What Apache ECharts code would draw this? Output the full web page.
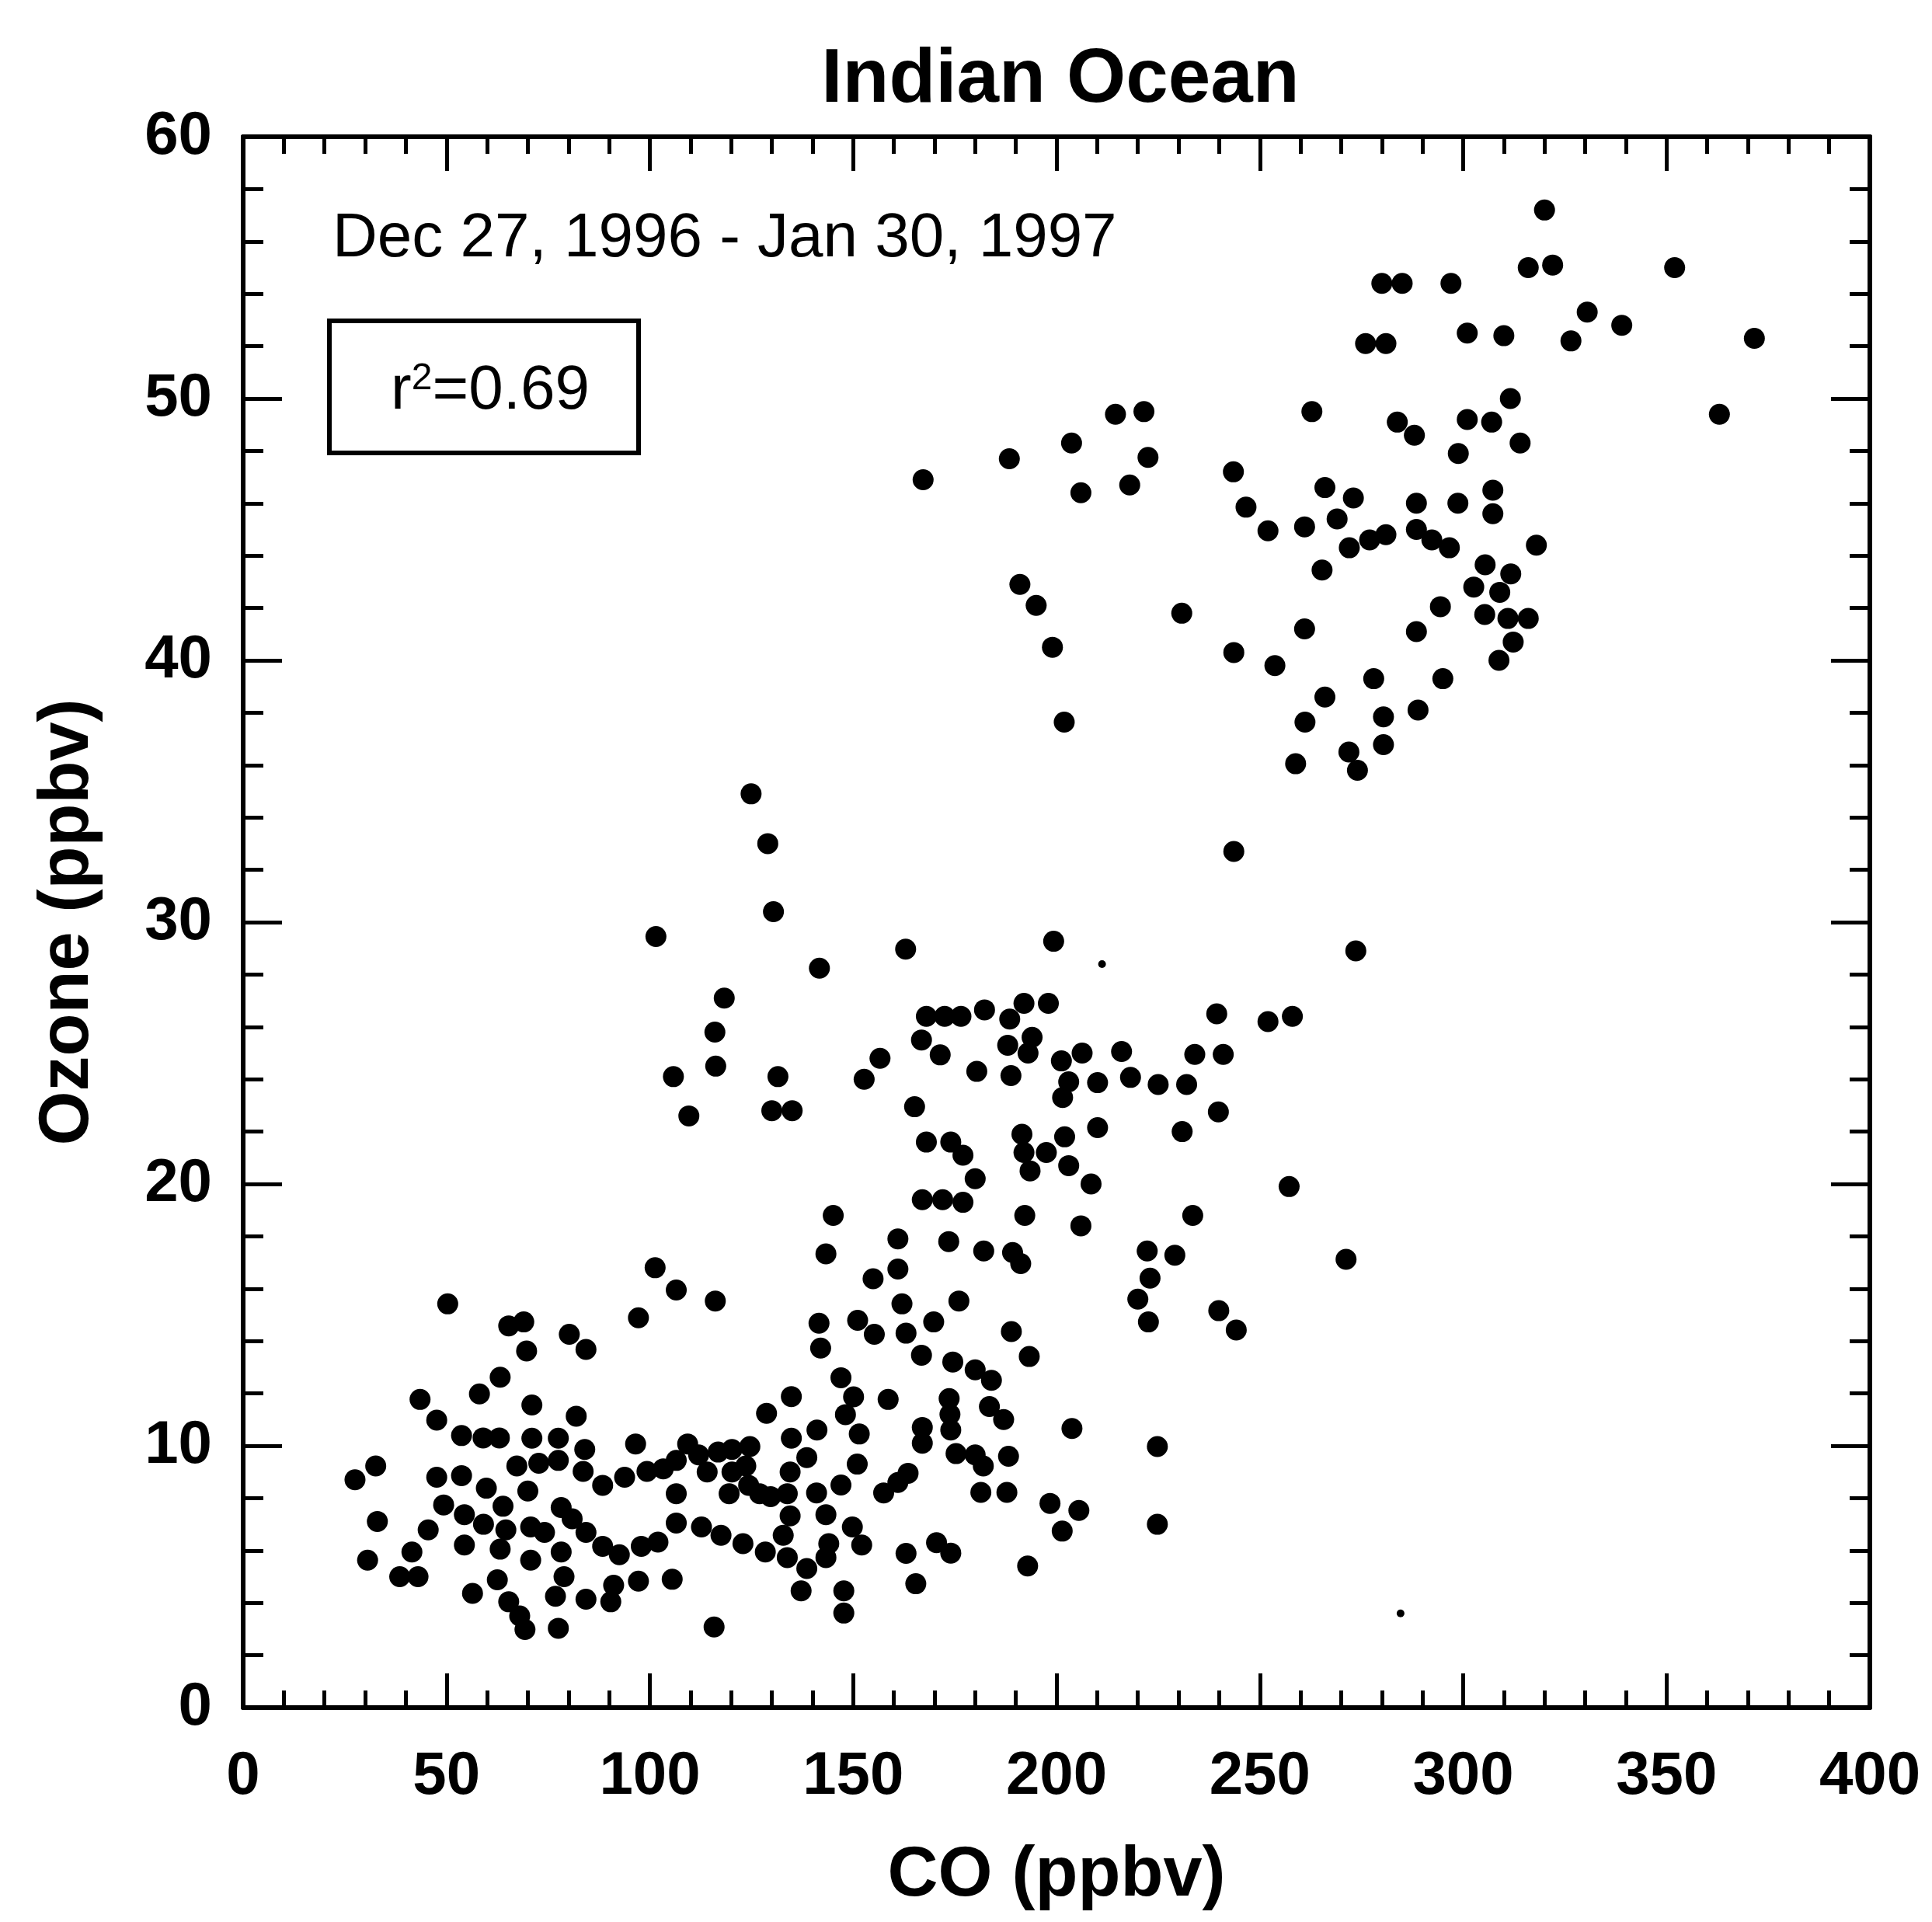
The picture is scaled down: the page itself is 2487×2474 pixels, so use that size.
<!DOCTYPE html>
<html>
<head>
<meta charset="utf-8">
<title>Indian Ocean</title>
<script src="https://cdn.jsdelivr.net/npm/echarts@6/dist/echarts.min.js"></script>
<style>
html, body { margin: 0; padding: 0; background: #fff; }
#chart { width: 2487px; height: 2474px; }
</style>
</head>
<body>
<div id="chart"></div>
<script>
// [CO ppbv, O3 ppbv]
var upperRight = [
	[320,57.2],[316,55.0],[322,55.1],[352,55.0],[330.5,53.3],[339,52.8],[326.5,52.2],[371.6,52.3],[363,49.4],
	[280,54.4],[285,54.4],[297,54.4],[276,52.1],[281,52.1],[301,52.5],[310,52.4],[311.6,50.0],
	[283.8,49.1],[288,48.6],[301,49.2],[307,49.1],[314,48.3],[298.8,47.9],
	[266,46.6],[269,45.4],[273,46.2],[288.5,46.0],[288.5,45.0],[298.7,46.0],[307.3,46.5],[307.3,45.6],
	[272,44.3],[277,44.6],[281,44.8],[292.3,44.6],[296.6,44.3],[318,44.4],
	[305.4,43.65],[311.7,43.3],[302.6,42.8],[309,42.6],[294.4,42.05],[305.3,41.75],[311,41.6],[316,41.6],
	[288.5,41.1],[308.8,40.0],[312.3,40.7],[278,39.3],[295,39.3],
	[288.9,38.1],[280.4,37.84],[280.4,36.78],[271.9,36.5],[274,35.8],[266,38.6],[261.1,37.64],[258.8,36.05]
];
var upperMiddle = [
	[214.5,49.4],[221.5,49.5],[262.8,49.5],[203.7,48.3],[188.4,47.7],[222.5,47.75],[167.2,46.9],[206,46.4],
	[218,46.7],[243.5,47.2],[246.6,45.85],[252,44.95],[261,45.1],[265.3,43.45],[191,42.9],[195,42.1],
	[230.8,41.8],[199,40.5],[261,41.2],[243.6,40.3],[253.7,39.8],[201.9,37.64],[243.6,32.7],[273.6,28.9]
];
var midBand = [
	[124.9,34.9],[129,33.0],[130.4,30.4],[101.5,29.45],[118.3,27.1],[116,25.8],[116.2,24.5],[105.8,24.1],
	[131.5,24.1],[109.6,22.6],[130,22.8],[135,22.8],
	[162.9,28.97],[141.7,28.24],[199.3,29.27],
	[168,26.4],[172.5,26.4],[176.5,26.4],[182.3,26.65],[192,26.9],[198,26.9],
	[188.5,26.3],[188,25.3],[194,25.6],[193,25.0],
	[166.8,25.5],[171.4,24.93],[156.6,24.8],[180.4,24.3],[188.8,24.14],[152.7,24.0],
	[201.2,24.7],[206.3,25.0],[216,25.06],[234,24.95],[241,24.95],[239.4,26.5],[252,26.2],[258,26.4],
	[203,23.9],[201.5,23.3],[210.1,23.87],[218.2,24.07],[225,23.8],[232,23.8],[239.8,22.75],[165.1,22.95],
	[210.1,22.15],[230.9,22.0],[168,21.6],[174,21.6],[177,21.1],[191.5,21.9],[192,21.2],[193.5,20.5],
	[197.5,21.2],[202,21.8],[203,20.7],[208.5,20.0],[180,20.2],[167,19.4],[172,19.4],[177,19.3],
	[257.2,19.9],[145.1,18.8],[192.2,18.8],[206,18.4],[233.5,18.8]
];
var lowerMiddle = [
	[222.3,17.44],[229.1,17.28],[220,15.6],[223,16.4],[222.6,14.73],[239.9,15.16],[244.2,14.42],[271.2,17.12],
	[224.8,9.97],[224.8,7.0],
	[143.3,17.33],[161,16.75],[154.9,16.38],[116.1,15.53],[161,17.9],[173.5,17.8],[182.1,17.44],[189.2,17.38],[191.2,16.96],
	[141.6,14.68],[142,13.73],[151.1,14.79],[155.2,14.26],[162,15.42],[176,15.53],
	[169.8,14.73],[163,14.3],[166.8,13.46],[188.9,14.36],[193.3,13.41],
	[174.5,13.2],[180,12.9],[184,12.5],
	[147,12.6],[150.1,11.87],[134.8,11.88],[128.7,11.24],[158.6,11.77],
	[173.6,11.8],[173.8,11.2],[174,10.6],[183.5,11.5],[187,11.0],[203.8,10.66],
	[148.1,11.19],[151.5,10.45],[141.1,10.6],[167,10.7],[167,10.1],
	[175.3,9.7],[180,9.65],[182,9.23],[188.2,9.6],[181.4,8.22],[187.8,8.22],[198.4,7.8],[205.5,7.53],[201.4,6.74],
	[170.5,6.3],[174,5.9],[163,5.89],[165.4,4.73],[192.9,5.41],
	[157.5,8.2],[161,8.6],[163.5,8.95],
	[151,9.3],[147,8.5],[141,8.2],[143.3,7.37],
	[149.8,6.9],[144,6.26],[152.1,6.21],[143.3,5.73],
	[147.7,4.46],[147.7,3.61],[115.8,3.08]
];
var lowerLeft = [
	[109.3,10.07],[124.6,9.97],[134.8,10.29],[138.6,9.55],
	[112,9.65],[116.8,9.76],[120.2,9.86],[114.1,9.0],
	[120.2,9.0],[119.5,8.17],[123.6,9.23],[124.3,8.49],[127,8.17],[129.7,8.06],
	[134.5,9.0],[133.8,8.17],[134.5,7.32],[132.8,6.58],
	[112.7,6.9],[117.5,6.58],[122.9,6.26],[128.4,5.94],[133.8,5.73],[138.6,5.31],[137.2,4.46],
	[101.3,16.8],[106.5,15.95],[50.3,15.42],[97.2,14.89],[65.3,14.58],[69,14.73],[80.2,14.26],[84.3,13.68],[69.7,13.62],
	[63.2,12.62],[58.1,11.98],[43.5,11.77],[71,11.56],[81.9,11.13],[47.6,10.98],[53.7,10.39],[59,10.3],[63,10.3],[71,10.29],
	[77.5,10.29],[77.5,9.44],[72.7,9.33],[67.3,9.23],[84,9.86],[83.6,9.02],
	[96.5,10.07],[88.4,8.49],[93.8,8.8],[99.3,9.02],[103.3,9.12],[106.5,9.44],
	[27.5,8.7],[32.6,9.23],[47.6,8.8],[53.7,8.86],[59.8,8.38],[70,8.27],[49.3,7.74],[63.9,7.69],[78.2,7.64],[80.9,7.21],
	[54.4,7.37],[59.1,7.0],[64.6,6.79],[70.7,6.9],[74.1,6.69],[33,7.11],[45.5,6.79],[63.2,6.05],[54.4,6.21],[70.7,5.63],[78.2,5.94],
	[84.3,6.69],[88.4,6.16],[92.5,5.84],[97.9,6.16],[102,6.32],[106.5,7.05],[106.5,8.17],[105.5,4.9],
	[30.6,5.63],[41.5,5.94],[38.5,5.0],[43,5.0],
	[56.4,4.36],[62.5,4.88],[65.3,4.04],[68,3.5],[69.3,2.98],[77.5,3.03],
	[78.9,5.0],[76.8,4.25],[84.3,4.14],[91.1,4.67],[90.4,4.04],[97.2,4.83]
];
// two tiny marks on the scan
var specks = [[211.2,28.4],[284.6,3.6]];

var xTicks = { min: 0, max: 400, interval: 50 };
var yTicks = { min: 0, max: 60, interval: 10 };

var fontFamily = '"Liberation Sans", Arial, sans-serif';

var chart = echarts.init(document.getElementById('chart'));

// frame axes: ticks point inward on all four sides
function axisBase(extra) {
	var base = {
		type: 'value',
		splitLine: { show: false },
		axisLine: { show: true, onZero: false, lineStyle: { color: '#000', width: 6 } },
		axisTick: { show: true, inside: true, length: 44, lineStyle: { color: '#000', width: 5 } },
		minorTick: { show: true, splitNumber: 5, length: 22, lineStyle: { color: '#000', width: 5 } },
		axisLabel: { color: '#000', fontSize: 78, fontWeight: 'bold', fontFamily: fontFamily }
	};
	for (var k in extra) base[k] = extra[k];
	return base;
}

var option = {
	backgroundColor: '#fff',
	animation: false,
	title: {
		text: 'Indian Ocean',
		left: 1360,
		top: 50,
		textAlign: 'center',
		textStyle: { color: '#000', fontSize: 98, fontWeight: 'bold', fontFamily: fontFamily }
	},
	grid: { left: 313, top: 176, width: 2094, height: 2022 },
	xAxis: [
		axisBase({
			position: 'bottom',
			min: xTicks.min, max: xTicks.max, interval: xTicks.interval,
			name: 'CO (ppbv)',
			nameLocation: 'middle',
			nameGap: 172,
			nameTextStyle: { color: '#000', fontSize: 90, fontWeight: 'bold', fontFamily: fontFamily },
			axisLabel: { color: '#000', fontSize: 78, fontWeight: 'bold', fontFamily: fontFamily, margin: 50 }
		}),
		axisBase({
			position: 'top',
			min: xTicks.min, max: xTicks.max, interval: xTicks.interval,
			axisLabel: { show: false }
		})
	],
	yAxis: [
		axisBase({
			position: 'left',
			min: yTicks.min, max: yTicks.max, interval: yTicks.interval,
			name: 'Ozone (ppbv)',
			nameLocation: 'middle',
			nameGap: 180,
			nameTextStyle: { color: '#000', fontSize: 90, fontWeight: 'bold', fontFamily: fontFamily },
			axisTick: { show: true, inside: true, length: 50, lineStyle: { color: '#000', width: 5 } },
			minorTick: { show: true, splitNumber: 5, length: 26, lineStyle: { color: '#000', width: 5 } },
			axisLabel: { color: '#000', fontSize: 78, fontWeight: 'bold', fontFamily: fontFamily, margin: 40 }
		}),
		axisBase({
			position: 'right',
			min: yTicks.min, max: yTicks.max, interval: yTicks.interval,
			axisTick: { show: true, inside: true, length: 50, lineStyle: { color: '#000', width: 5 } },
			minorTick: { show: true, splitNumber: 5, length: 26, lineStyle: { color: '#000', width: 5 } },
			axisLabel: { show: false }
		})
	],
	graphic: [
		{
			type: 'text',
			left: 428,
			top: 268,
			style: { text: 'Dec 27, 1996 - Jan 30, 1997', fill: '#000', font: 'normal 80px ' + fontFamily }
		},
		{
			type: 'rect',
			shape: { x: 424, y: 413, width: 398, height: 170 },
			style: { fill: 'none', stroke: '#000', lineWidth: 6 }
		},
		{
			type: 'text',
			x: 631,
			y: 504,
			style: {
				text: '{r|r}{s|2}{r|=0.69}',
				align: 'center',
				verticalAlign: 'middle',
				rich: {
					r: { fontSize: 80, fontFamily: fontFamily, fill: '#000', verticalAlign: 'bottom' },
					s: { fontSize: 48, fontFamily: fontFamily, fill: '#000', verticalAlign: 'top' }
				}
			}
		}
	],
	series: [
		{
			type: 'scatter',
			symbol: 'circle',
			symbolSize: 27,
			itemStyle: { color: '#000', opacity: 1 },
			data: [].concat(upperRight, upperMiddle, midBand, lowerMiddle, lowerLeft)
		},
		{
			type: 'scatter',
			symbol: 'circle',
			symbolSize: 10,
			itemStyle: { color: '#000', opacity: 1 },
			data: specks
		}
	]
};

chart.setOption(option);
</script>
</body>
</html>
